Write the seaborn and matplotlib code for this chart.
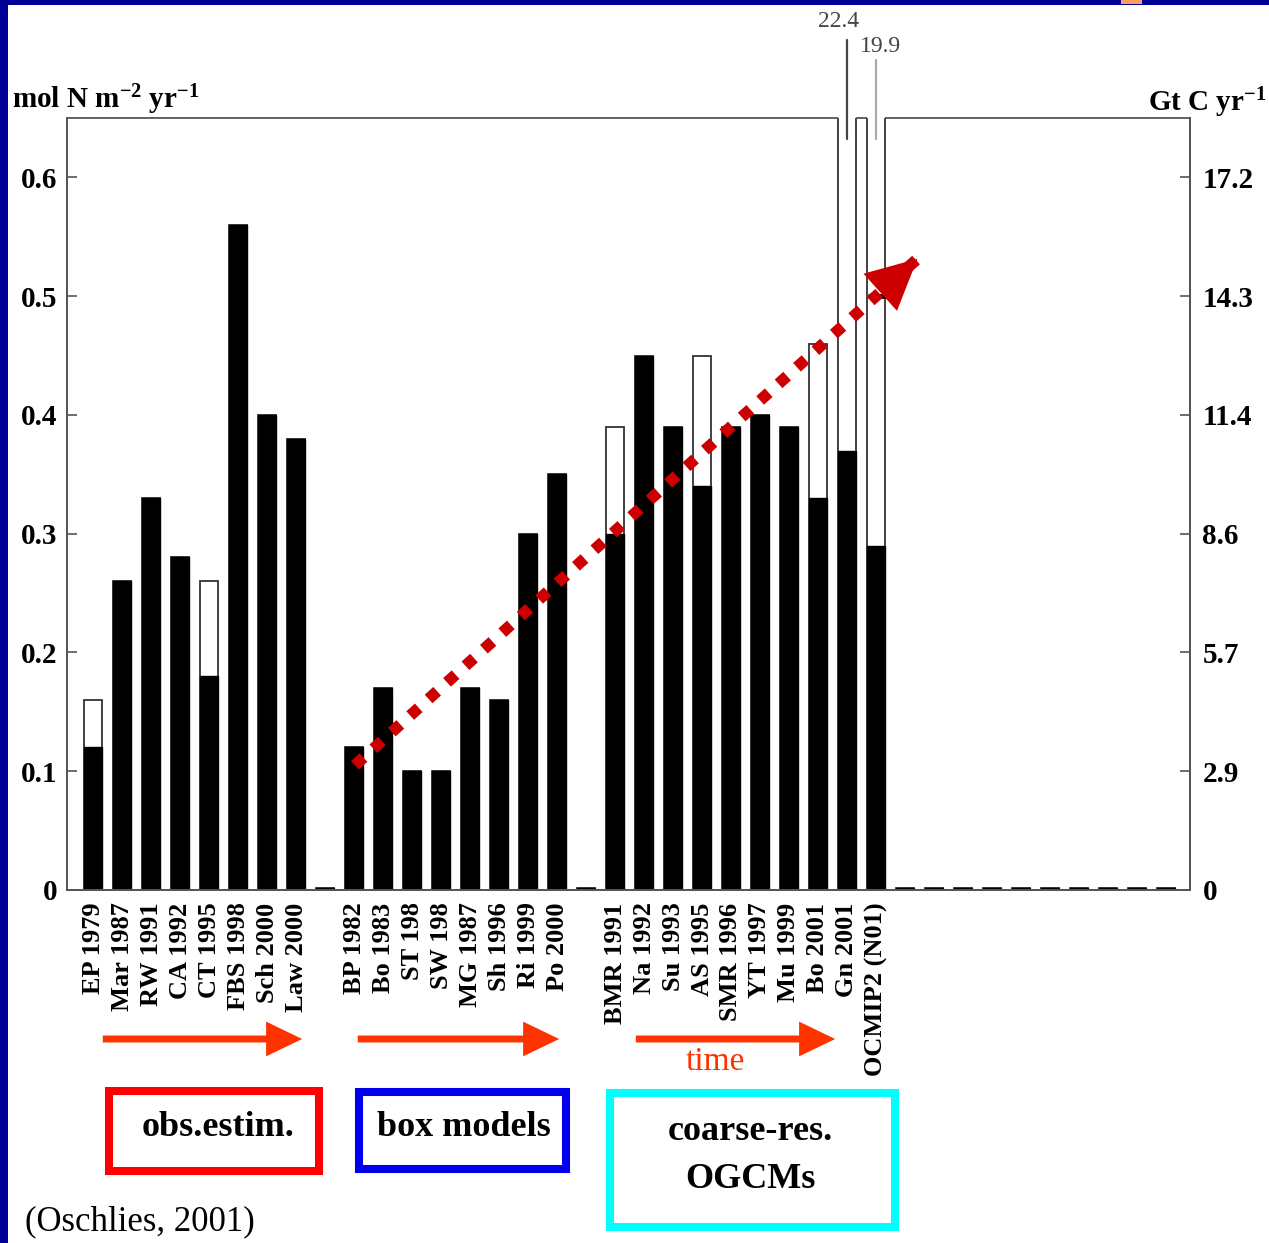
import numpy as np
import pandas as pd
import matplotlib
matplotlib.use("Agg")
import matplotlib.pyplot as plt
import seaborn as sns
from matplotlib.patches import Rectangle, FancyArrowPatch, ArrowStyle

# ---------------- data ----------------
categories = ['EP 1979', 'Mar 1987', 'RW 1991', 'CA 1992', 'CT 1995', 'FBS 1998',
              'Sch 2000', 'Law 2000', '',
              'BP 1982', 'Bo 1983', 'ST 198', 'SW 198', 'MG 1987', 'Sh 1996',
              'Ri 1999', 'Po 2000', '',
              'BMR 1991', 'Na 1992', 'Su 1993', 'AS 1995', 'SMR 1996', 'YT 1997',
              'Mu 1999', 'Bo 2001', 'Gn 2001', 'OCMIP2 (N01)',
              '', '', '', '', '', '', '', '', '', '']
lower_values = [0.12, 0.26, 0.33, 0.28, 0.18, 0.56, 0.40, 0.38, 0.002,
                0.12, 0.17, 0.10, 0.10, 0.17, 0.16, 0.30, 0.35, 0.002,
                0.30, 0.45, 0.39, 0.34, 0.39, 0.40, 0.39, 0.33, 0.37, 0.29,
                0.002, 0.002, 0.002, 0.002, 0.002, 0.002, 0.002, 0.002, 0.002, 0.002]
upper_values = [0.16, 0.26, 0.33, 0.28, 0.26, 0.56, 0.40, 0.38, 0.002,
                0.12, 0.17, 0.10, 0.10, 0.17, 0.16, 0.30, 0.35, 0.002,
                0.39, 0.45, 0.39, 0.45, 0.39, 0.40, 0.39, 0.46, 0.781, 0.694,
                0.002, 0.002, 0.002, 0.002, 0.002, 0.002, 0.002, 0.002, 0.002, 0.002]
overflow_studies = ['Gn 2001', 'OCMIP2 (N01)']
overflow_labels = ['22.4', '19.9']
ocmip_mark = 0.50

left_ticks = [0, 0.1, 0.2, 0.3, 0.4, 0.5, 0.6]
left_ticklabels = ['0', '0.1', '0.2', '0.3', '0.4', '0.5', '0.6']
right_ticklabels = ['0', '2.9', '5.7', '8.6', '11.4', '14.3', '17.2']

trend_x = [9.03, 28.5]
trend_y = [0.105, 0.533]

group_labels = ['obs.estim.', 'box models', 'coarse-res.\nOGCMs']
group_colors = ['#FF0000', '#0000EE', '#00FFFF']

# ---------------- style ----------------
sns.set_style("ticks")
plt.rcParams['font.family'] = ['Liberation Serif', 'DejaVu Serif']
plt.rcParams['mathtext.fontset'] = 'custom'
plt.rcParams['mathtext.rm'] = 'Liberation Serif'
plt.rcParams['mathtext.bf'] = 'Liberation Serif:bold'
plt.rcParams['mathtext.default'] = 'bf'
plt.rcParams['text.color'] = 'black'
plt.rcParams['xtick.labelcolor'] = 'black'
plt.rcParams['ytick.labelcolor'] = 'black'

W, H = 1269, 1243
fig = plt.figure(figsize=(W / 100, H / 100), dpi=100)
fig.patch.set_facecolor('white')

def fx(p):
    return p / W

def fy(p):
    return 1 - p / H

ax = fig.add_axes([fx(67), fy(890), (1190 - 67) / W, (890 - 118) / H])
ax.set_facecolor('white')

df = pd.DataFrame({'slot': np.arange(len(categories)),
                   'lower': lower_values, 'upper': upper_values})

sns.barplot(data=df, x='slot', y='upper', color='white', saturation=1,
            edgecolor='#333333', linewidth=1.3, width=0.62, native_scale=True,
            errorbar=None, orient='x', ax=ax)
sns.barplot(data=df, x='slot', y='lower', color='black', saturation=1,
            edgecolor='black', linewidth=1.0, width=0.62, native_scale=True,
            errorbar=None, orient='x', ax=ax)

XL = (-0.9, 37.83)
YT = 0.65
ax.set_xlim(*XL)
ax.set_ylim(0, YT)

# x tick labels
lab_pos = [i for i, c in enumerate(categories) if c]
lab_txt = [c for c in categories if c]
ax.set_xticks(lab_pos)
ax.set_xticklabels(lab_txt, rotation=90, fontsize=19, fontweight='bold', color='black')
ax.tick_params(axis='x', length=0, pad=9)
ax.set_xlabel('')
ax.set_ylabel('')

ax.set_yticks(left_ticks)
ax.set_yticklabels(left_ticklabels, fontsize=21, fontweight='bold', color='black')
ax.tick_params(axis='y', direction='in', length=7, width=1.2, color='#555555', pad=7)

ax2 = ax.twinx()
ax2.set_ylim(0, YT)
ax2.set_yticks(left_ticks)
ax2.set_yticklabels(right_ticklabels, fontsize=21, fontweight='bold', color='black')
ax2.tick_params(axis='y', direction='in', length=7, width=1.2, color='#555555', pad=9)

for a in (ax, ax2):
    a.spines['top'].set_visible(False)
    for s in ('left', 'right', 'bottom'):
        a.spines[s].set_color('#555555')
        a.spines[s].set_linewidth(1.3)

# top frame line, interrupted where bars exceed the axis
half = 0.31
ov_idx = [categories.index(s) for s in overflow_studies]
edges = [XL[0]]
for i in ov_idx:
    edges += [i - half, i + half]
edges.append(XL[1])
for k in range(0, len(edges), 2):
    ax.plot([edges[k], edges[k + 1]], [YT, YT], color='#555555', lw=1.3,
            clip_on=False, solid_capstyle='butt', zorder=5)

# leader lines and overflow labels
leader_tops = [0.716, 0.699]
leader_cols = ['#444444', '#AAAAAA']
label_ys = [0.731, 0.710]
label_dx = [-0.28, 0.17]
for i, t, c, ly, dx, txt in zip(ov_idx, leader_tops, leader_cols, label_ys, label_dx, overflow_labels):
    ax.plot([i, i], [0.632, t], color=c, lw=1.6, clip_on=False, zorder=5)
    ax.text(i + dx, ly, txt, ha='center', va='center', fontsize=17,
            color='#444444', clip_on=False)

# black mark on OCMIP2 bar
oc = categories.index('OCMIP2 (N01)')
ax.hlines(ocmip_mark, oc - 0.28, oc + 0.42, color='black', lw=3.5, zorder=4)

# red dotted trend arrow
sns.lineplot(x=trend_x, y=trend_y, color='#CC0000', lw=8.3, ax=ax,
             linestyle=(0, (1, 1.15)), dash_capstyle='butt', zorder=6)
tip = (trend_x[1], trend_y[1])
disp_tip = ax.transData.transform(tip)
disp_start = ax.transData.transform((trend_x[0], trend_y[0]))
vec = (disp_tip - disp_start) / np.linalg.norm(disp_tip - disp_start)
base = ax.transData.inverted().transform(disp_tip - vec * 70)
head = FancyArrowPatch(base, tip, transform=ax.transData,
                       arrowstyle=ArrowStyle.Simple(head_length=36, head_width=36, tail_width=0.01),
                       mutation_scale=1, color='#CC0000', clip_on=False, zorder=7, lw=0)
ax.add_patch(head)

# axis unit labels
fig.text(fx(12), fy(108), r'mol N m$^{-2}$ yr$^{-1}$', fontsize=21, fontweight='bold',
         ha='left', va='baseline')
fig.text(fx(1266), fy(111), r'Gt C yr$^{-1}$', fontsize=21, fontweight='bold',
         ha='right', va='baseline')

# time arrows below the axis
for x0, x1 in [(100, 305), (355, 562), (633, 838)]:
    arr = FancyArrowPatch((fx(x0), fy(1039)), (fx(x1), fy(1039)), transform=fig.transFigure,
                          arrowstyle=ArrowStyle.Simple(head_length=26, head_width=25, tail_width=5),
                          mutation_scale=1, color='#FF3300', lw=0)
    fig.add_artist(arr)
fig.text(fx(715), fy(1062), 'time', fontsize=24, color='#FF3300', ha='center', va='center')

# group boxes
boxes = [(109, 1091, 319, 1171), (359, 1092, 566, 1169), (610, 1093, 895, 1227)]
text_pos = [(218, 1127), (464, 1128), (750, 1155)]
for (x0, y0, x1, y1), (tx, ty), lab, col in zip(boxes, text_pos, group_labels, group_colors):
    r = Rectangle((fx(x0), fy(y1)), fx(x1) - fx(x0), fy(y0) - fy(y1),
                  transform=fig.transFigure, fill=False, edgecolor=col, lw=5.8)
    fig.add_artist(r)
    fig.text(fx(tx), fy(ty), lab, fontsize=26, fontweight='bold', ha='center',
             va='center', linespacing=1.6)

fig.text(fx(25), fy(1222), '(Oschlies, 2001)', fontsize=25, ha='left', va='center')

# slide border
fig.add_artist(Rectangle((0, 0), fx(8), 1, transform=fig.transFigure,
                         color='#000099', lw=0))
fig.add_artist(Rectangle((0, fy(5)), 1, 5 / H, transform=fig.transFigure,
                         color='#000099', lw=0))
fig.add_artist(Rectangle((fx(1121), fy(4)), 21 / W, 4 / H, transform=fig.transFigure,
                         color='#FF9966', lw=0))

fig.savefig('out.png', dpi=100, facecolor='white')
